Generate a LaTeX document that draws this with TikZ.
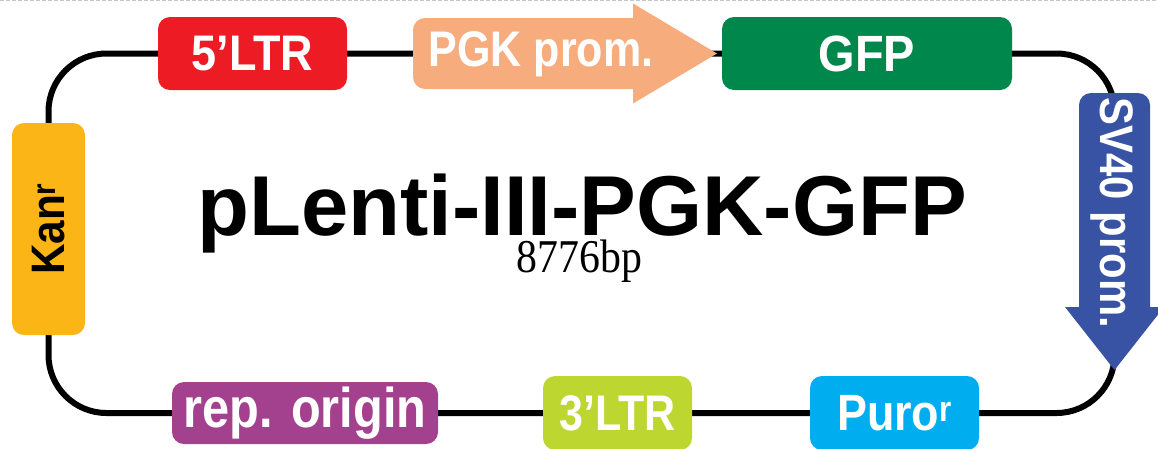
\documentclass[tikz,border=0pt]{standalone}
\usepackage{fontspec}
\usepackage{graphicx}
\setmainfont{Liberation Sans}
\newfontfamily\numfont{Liberation Serif}
\usetikzlibrary{backgrounds}
\definecolor{ltrred}{HTML}{ED1C24}
\definecolor{pgkc}{HTML}{F7AC7E}
\definecolor{gfpc}{HTML}{00874B}
\definecolor{svc}{HTML}{3953A4}
\definecolor{puroc}{HTML}{00ADEE}
\definecolor{limec}{HTML}{BED630}
\definecolor{repc}{HTML}{A4418F}
\definecolor{kanc}{HTML}{FBB517}
\newcommand{\boxlabel}[3]{{\fontsize{#1}{#1}\selectfont\bfseries\scalebox{#2}[1]{#3}}}
\begin{document}
\begin{tikzpicture}[x=1pt,y=-1pt,
  box/.style={rounded corners=12pt, inner sep=0pt, text=white},
  lbltext/.style={inner sep=0pt, text=white},
  backbone/.style={line width=6pt, black, rounded corners=58pt}]
\useasboundingbox (0,0) rectangle (1158,448);
\draw[gray!45, line width=1.2pt, dash pattern=on 4pt off 2pt] (0,0.8) -- (1158,0.8);

% top row
\node[box, fill=ltrred, minimum width=189pt, minimum height=73pt] (ltr5) at (252.5,53.5) {\boxlabel{50}{0.9}{5’LTR}};
\fill[pgkc] (633,3.5) -- (717,53.5) -- (633,103.5) -- cycle;
\node[box, fill=pgkc, minimum width=232pt, minimum height=71pt] (pgk) at (529,53.5) {};
\node[lbltext] (pgklab) at (541,54.5) {\boxlabel{50}{0.86}{PGK prom.}};
\node[box, fill=gfpc, minimum width=290pt, minimum height=73pt] (gfp) at (867,53.5) {\boxlabel{51}{0.92}{GFP}};

% right
\fill[svc] (1065,307) -- (1164,307) -- (1114.5,370) -- cycle;
\node[box, fill=svc, minimum width=71pt, minimum height=227pt] (sv40) at (1114.5,206.5) {};
\node[lbltext] (svlab) at (1112,213) {\rotatebox{-90}{\boxlabel{47}{0.89}{SV40 prom.}}};

% bottom row
\node[box, fill=puroc, minimum width=169pt, minimum height=74pt] (puro) at (894.5,413) {\boxlabel{51}{0.88}{Puro\textsuperscript{r}}};
\node[box, fill=limec, minimum width=149pt, minimum height=74pt] (ltr3) at (617.5,413) {\boxlabel{50}{0.86}{3’LTR}};
\node[box, fill=repc, minimum width=266pt, minimum height=62pt] (rep) at (305,413) {\boxlabel{56}{0.87}{rep. origin}};

% left
\node[box, fill=kanc, text=black, minimum width=73pt, minimum height=212pt] (kan) at (48.5,229) {\rotatebox{90}{\boxlabel{47}{0.9}{Kan\textsuperscript{r}}}};

% title
\node[anchor=base, inner sep=0pt, text depth=0pt] (title) at (582,235) {\fontsize{85}{85}\selectfont\bfseries pLenti-III-PGK-GFP};
\node[anchor=base, inner sep=0pt] (size) at (579.5,272) {\numfont\fontsize{47}{47}\selectfont\scalebox{0.89}[1]{8776bp}};

\begin{pgfonlayer}{background}
\draw[backbone] (kan.center) |- (ltr5.center) -- (pgk.center) -- (gfp.center) -| (sv40.center) |- (puro.center) -- (ltr3.center) -- (rep.center) -| (kan.center);
\end{pgfonlayer}
\end{tikzpicture}
\end{document}
